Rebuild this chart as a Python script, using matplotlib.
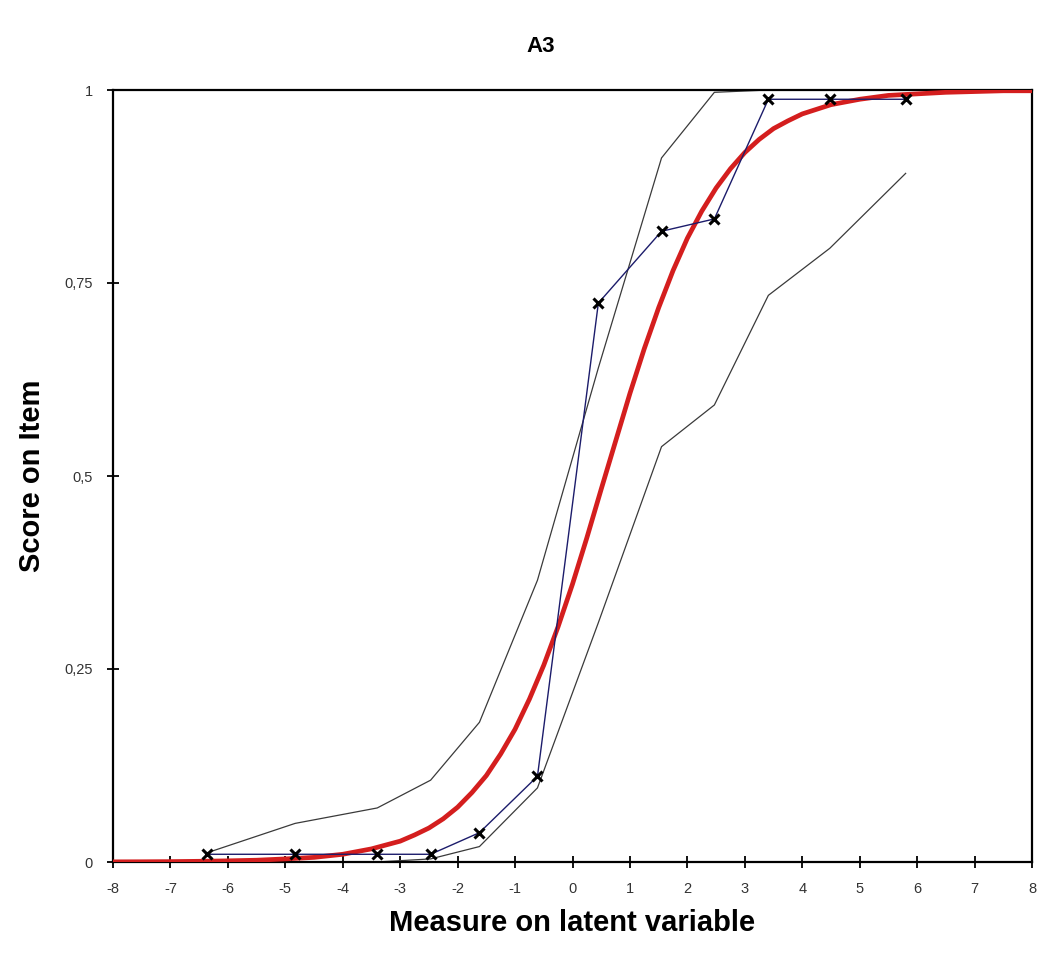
import matplotlib
matplotlib.use('Agg')
import matplotlib.pyplot as plt
from matplotlib.ticker import FuncFormatter

plt.rcParams['font.family'] = ['Liberation Sans', 'DejaVu Sans']
plt.rcParams['axes.unicode_minus'] = False

# Observed item scores by class interval
x_obs = [-6.36, -4.83, -3.40, -2.47, -1.62, -0.61, 0.45, 1.55, 2.47, 3.41, 4.48, 5.80]
y_obs = [0.010, 0.010, 0.010, 0.010, 0.038, 0.111, 0.724, 0.817, 0.833, 0.988, 0.988, 0.988]

# Confidence band around the expected curve
y_upper = [0.012, 0.050, 0.070, 0.106, 0.181, 0.365, 0.640, 0.912, 0.997, 1.000, 1.000, 1.000]
y_lower = [0.000, 0.000, 0.000, 0.004, 0.020, 0.096, 0.310, 0.538, 0.592, 0.734, 0.795, 0.892]

# Expected score curve (finer in the steep part)
x_exp = [-8, -7.5, -7, -6.5, -6, -5.5, -5, -4.5, -4, -3.5,
         -3, -2.75, -2.5, -2.25, -2, -1.75, -1.5, -1.25, -1, -0.75, -0.5, -0.25,
         0, 0.25, 0.5, 0.75, 1, 1.25, 1.5, 1.75, 2, 2.25, 2.5, 2.75, 3, 3.25, 3.5, 3.75,
         4, 4.5, 5, 5.5, 6, 6.5, 7, 7.5, 8]
y_exp = [0.0002, 0.0003, 0.0005, 0.0009, 0.0015, 0.0023, 0.004, 0.006, 0.010, 0.017,
         0.027, 0.035, 0.044, 0.056, 0.071, 0.090, 0.112, 0.140, 0.172, 0.211, 0.255, 0.305,
         0.360, 0.420, 0.483, 0.545, 0.607, 0.665, 0.718, 0.766, 0.808, 0.843, 0.873, 0.898,
         0.919, 0.936, 0.950, 0.960,
         0.969, 0.981, 0.988, 0.993, 0.995, 0.997, 0.998, 0.999, 0.999]

x_ticks = list(range(-8, 9))
y_ticks = [0, 0.25, 0.5, 0.75, 1]

fig = plt.figure(figsize=(10.4, 9.56), dpi=100)
ax = fig.add_axes([113 / 1040, 1 - 862 / 956, (1032 - 113) / 1040, (862 - 90) / 956])

ax.plot(x_obs, y_upper, color='#3a3a3a', linewidth=0.9, zorder=2)
ax.plot(x_obs, y_lower, color='#3a3a3a', linewidth=0.9, zorder=2)
ax.plot(x_exp, y_exp, color='#d41e1e', linewidth=3.4, solid_joinstyle='round', zorder=3)
ax.plot(x_obs, y_obs, color='#1c1c6b', linewidth=1.0, marker='x', markersize=7,
        markeredgewidth=2.2, markeredgecolor='black', zorder=4)

ax.set_xlim(-8, 8)
ax.set_ylim(0, 1)
ax.set_xticks(x_ticks)
ax.set_yticks(y_ticks)
ax.yaxis.set_major_formatter(FuncFormatter(lambda v, p: ('%g' % v).replace('.', ',')))
ax.tick_params(direction='inout', length=9, width=1.3, colors='black', labelcolor='#333333',
               labelsize=10.5)
ax.tick_params(axis='x', pad=10)
ax.tick_params(axis='y', pad=10)
for s in ax.spines.values():
    s.set_linewidth(1.6)

ax.set_xlabel('Measure on latent variable', fontsize=21, fontweight='bold', labelpad=9)
ax.set_ylabel('Score on Item', fontsize=21, fontweight='bold', labelpad=13)
fig.text(541 / 1040, 1 - 46 / 956, 'A3', ha='center', va='center', fontsize=16,
         fontweight='bold', family=['Liberation Sans Narrow', 'Liberation Sans'])

fig.savefig('out.png', dpi=100, facecolor='white')
